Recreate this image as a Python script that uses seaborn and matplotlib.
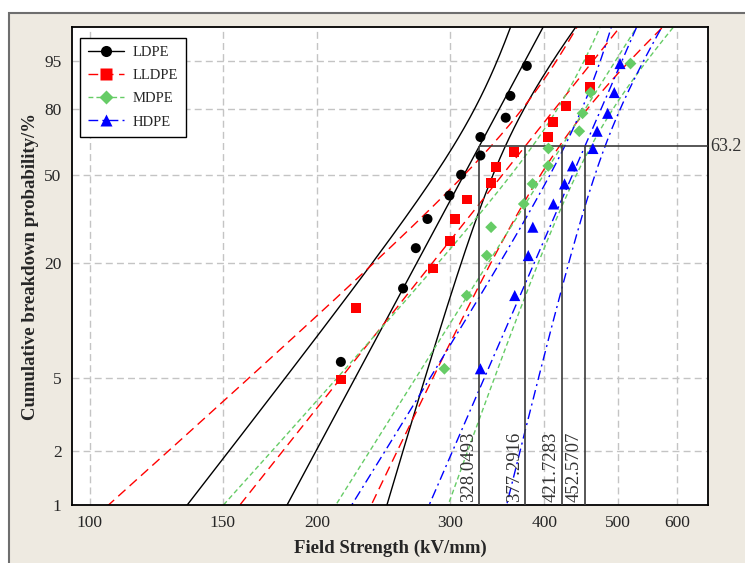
import numpy as np
import pandas as pd
import matplotlib
matplotlib.use('Agg')
import matplotlib.pyplot as plt
from matplotlib.lines import Line2D
from matplotlib.patches import Rectangle
from matplotlib.ticker import NullLocator
import seaborn as sns

materials = ['LDPE', 'LLDPE', 'MDPE', 'HDPE']

# breakdown field strength (kV/mm)
ldpe_e = [215.1, 260.0, 270.3, 280.1, 299.5, 310.3, 329.1, 329.1, 355.5, 360.6, 379.1]
lldpe_e = [215.3, 225.1, 284.9, 300.1, 304.7, 315.7, 340.3, 345.4, 365.0, 404.5,
           411.0, 427.3, 460.1, 460.1]
mdpe_e = [294.9, 315.7, 335.6, 340.0, 375.6, 385.8, 404.7, 404.9, 444.8, 449.3, 460.5, 520.0]
hdpe_e = [329.1, 365.4, 380.8, 386.1, 411.1, 425.3, 435.7, 463.7, 469.7, 485.0, 494.9, 503.6]

# cumulative probability (%) of each point
ldpe_p = [6.1, 14.9, 23.7, 32.5, 41.2, 50.0, 58.8, 67.5, 76.3, 85.1, 93.9]
lldpe_p = [4.9, 11.8, 18.8, 25.7, 32.6, 39.6, 46.5, 53.5, 60.4, 67.4, 74.3, 81.3, 88.2, 95.1]
mdpe_p = [5.6, 13.7, 21.8, 29.8, 37.9, 46.0, 54.0, 62.1, 70.2, 78.2, 86.3, 94.4]
hdpe_p = [5.6, 13.7, 21.8, 29.8, 37.9, 46.0, 54.0, 62.1, 70.2, 78.2, 86.3, 94.4]

# weibull scale (characteristic strength) and shape
eta = [328.0493, 377.2916, 421.7283, 452.5707]
beta = [7.85, 5.29, 6.68, 9.69]

x_ticks = [100, 150, 200, 300, 400, 500, 600]
y_ticks = [1, 2, 5, 20, 50, 80, 95]

colors = ['black', '#FF0000', '#66CC66', '#0000FF']
markers = ['o', 's', 'D', '^']
sizes = [52, 50, 36, 64]
styles = ['-', (0, (7, 4)), (0, (3.5, 2.2)), (0, (7, 3, 1.5, 3))]

strength = [ldpe_e, lldpe_e, mdpe_e, hdpe_e]
prob = [ldpe_p, lldpe_p, mdpe_p, hdpe_p]


def fwd(p):
    p = np.clip(np.asarray(p, dtype=float), 1e-4, 100 - 1e-4)
    return np.log(-np.log(1 - p / 100))


def inv(w):
    return 100 * (1 - np.exp(-np.exp(w)))


sns.set_style('white')
plt.rcParams['font.family'] = ['Liberation Serif', 'DejaVu Serif']

fig = plt.figure(figsize=(7.45, 5.63), dpi=100)
fig.patch.set_facecolor('white')
fig.add_artist(Rectangle((9 / 745, -0.01), 1.0, 1 - 13 / 563 + 0.01, transform=fig.transFigure,
                         facecolor='#EEEAE1', edgecolor='#6E6E6E', lw=1.5, zorder=-10))

ax = fig.add_axes([72 / 745, 1 - 505 / 563, 636 / 745, 478 / 563])
ax.set_facecolor('white')
ax.set_xscale('log')
ax.set_yscale('function', functions=(fwd, inv))

# fitted lines with 95% fisher bounds
w = np.linspace(-4.75, 1.65, 200)
for i, m in enumerate(materials):
    n = len(strength[i])
    b = 1 / beta[i]
    h = 1.96 * np.sqrt(b ** 2 / n * (1.1087 + 0.6079 * w ** 2 - 0.5140 * w))
    center = np.log(eta[i]) + w * b
    for curve in [center, center - h, center + h]:
        sns.lineplot(x=np.exp(curve), y=inv(w), sort=False, estimator=None, color=colors[i],
                     linestyle=styles[i], lw=1, ax=ax)

# characteristic strength markers
ax.vlines(eta, 1, 63.2, color='#3A3A3A', lw=1.2, zorder=3)
ax.hlines(63.2, eta[0], 658.5, color='#3A3A3A', lw=1.2, zorder=3)
for e in eta:
    ax.text(e * 0.994, 1.04, f'{e:.4f}', rotation=90, ha='right', va='bottom', fontsize=13.5,
            color='#333333')
ax.text(1.004, 63.2, '63.2', transform=ax.get_yaxis_transform(), ha='left', va='center',
        fontsize=13, color='#333333')

for i, m in enumerate(materials):
    pts = pd.DataFrame({'E': strength[i], 'F': prob[i]})
    sns.scatterplot(data=pts, x='E', y='F', color=colors[i], marker=markers[i], s=sizes[i],
                    edgecolor='none', ax=ax, zorder=5)

ax.set_xlim(94.8, 658.5)
ax.set_ylim(1, 99)
ax.set_xticks(x_ticks)
ax.set_xticklabels([str(t) for t in x_ticks])
ax.set_yticks(y_ticks)
ax.set_yticklabels([str(t) for t in y_ticks])
ax.xaxis.set_minor_locator(NullLocator())
ax.yaxis.set_minor_locator(NullLocator())
ax.tick_params(direction='out', length=4, width=1, labelsize=12.5, color='black')
ax.grid(True, color='#C4C4C4', linestyle=(0, (5, 3)), lw=1)
for s in ax.spines.values():
    s.set_color('black')
    s.set_linewidth(1.3)

ax.set_xlabel('Field Strength (kV/mm)', fontsize=13.5, fontweight='bold', labelpad=6)
ax.set_ylabel('Cumulative breakdown probability/%', fontsize=13.5, fontweight='bold', labelpad=4)

handles = [Line2D([], [], color=colors[i], linestyle=styles[i], lw=1, marker=markers[i],
                  markersize=[8, 8, 7, 8.5][i], markeredgecolor='none') for i in range(4)]
leg = ax.legend(handles, materials, loc='upper left', bbox_to_anchor=(0.012, 0.977),
                borderaxespad=0, frameon=True, fancybox=False, edgecolor='black', framealpha=1,
                fontsize=10.5, handlelength=2.5, handletextpad=0.6, labelspacing=0.68,
                borderpad=0.55)
leg.get_frame().set_linewidth(1)

fig.savefig('out.png', dpi=100, facecolor=fig.get_facecolor())
